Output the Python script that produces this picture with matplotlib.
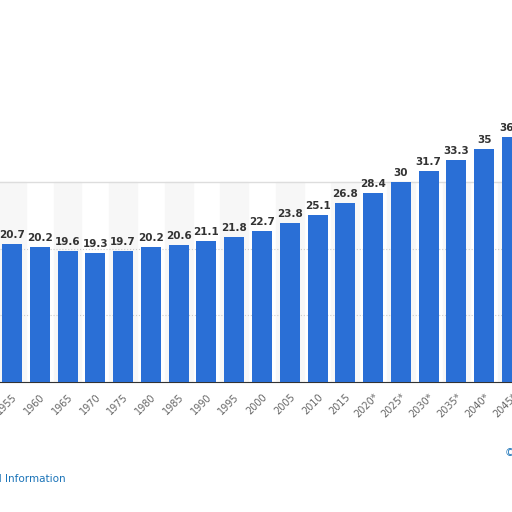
import numpy as np
import matplotlib.pyplot as plt

# ------------------------------
# DATA
# ------------------------------
years = ["1955", "1960", "1965", "1970", "1975", "1980", "1985", "1990", "1995",
         "2000", "2005", "2010", "2015", "2020*", "2025*", "2030*", "2035*",
         "2040*", "2045*"]
values = [20.7, 20.2, 19.6, 19.3, 19.7, 20.2, 20.6, 21.1, 21.8,
          22.7, 23.8, 25.1, 26.8, 28.4, 30, 31.7, 33.3, 35, 36.7]

BLUE = "#2a6fd6"

fig = plt.figure(figsize=(5.12, 5.12), dpi=100)
ax = fig.add_axes([0.0, 0.254, 1.0, 0.521])

x = np.arange(len(years))
# faint alternating column shading, only in the lower (visible) panel
for i in x[::2]:
    ax.axvspan(i - 0.5, i + 0.5, ymax=0.75, color="#f7f7f7", zorder=0)
ax.axhline(30, color="#dddddd", linewidth=1.0, zorder=1)

ax.bar(x, values, width=0.72, color=BLUE, zorder=3)
for xi, v in zip(x, values):
    ax.text(xi, v + 0.6, f"{v:g}", ha="center", va="bottom", fontsize=7.5,
            fontweight="bold", color="#333333", zorder=4)

ax.set_xlim(-0.43, 17.92)
ax.set_ylim(0, 40)
ax.set_yticks([0, 10, 20])
ax.yaxis.grid(True, linestyle=":", color="#cccccc", linewidth=0.8, zorder=1)
ax.tick_params(axis="y", left=False, labelleft=False)
ax.tick_params(axis="x", length=0, pad=7)
ax.set_xticks(x)
ax.set_xticklabels(years, rotation=45, ha="right", rotation_mode="anchor",
                   fontsize=7, color="#666666")
for s in ["top", "right", "left"]:
    ax.spines[s].set_visible(False)
ax.spines["bottom"].set_color("#333333")

fig.text(-0.1, 0.058, "Additional Information", fontsize=7.5, color="#1a73b8")
fig.text(0.985, 0.11, "©", fontsize=7.5, color="#1a73b8")

fig.savefig("out.png", dpi=100)
